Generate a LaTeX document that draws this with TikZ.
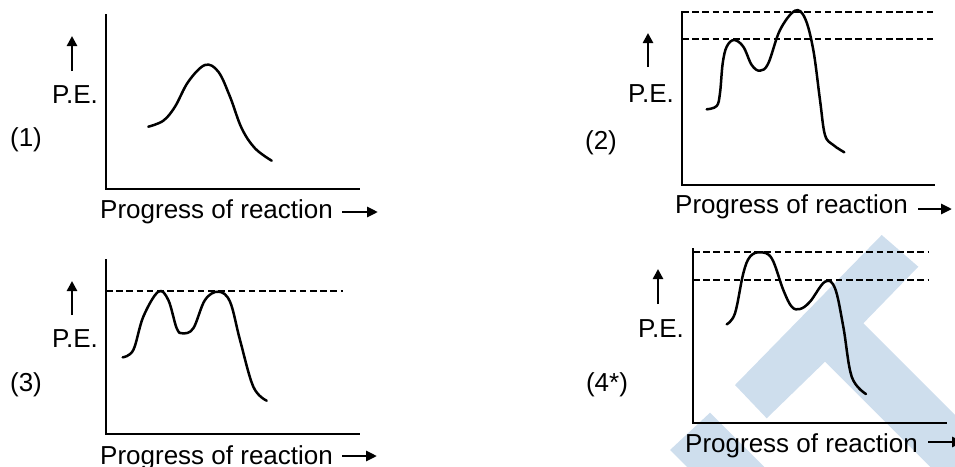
\documentclass[tikz,border=0pt]{standalone}
\usepackage{fontspec}
\setmainfont{Liberation Sans}
\usetikzlibrary{arrows.meta}
\definecolor{wm}{RGB}{206,222,237}
\begin{document}
\begin{tikzpicture}[x=1pt,y=-1pt,
  axis/.style={line width=2.6pt, line cap=rect},
  curve/.style={line width=2.5pt, line join=round, line cap=round},
  level/.style={line width=2.1pt, dash pattern=on 6.5pt off 3.7pt},
  uparrow/.style={line width=2.8pt, -{Triangle[length=10pt,width=10pt]}},
  rarrow/.style={line width=2.8pt, -{Triangle[length=11pt,width=10pt]}},
  lbl/.style={font=\fontsize{26}{31}\selectfont, inner sep=0pt},
]
\useasboundingbox (0,0) rectangle (955,466);
\clip (0,0) rectangle (955,466);
% watermark
\fill[wm] (735,385) -- (881.7,235) -- (918.3,266.7) -- (863.3,323.3) -- (1010,470) -- (933.3,470) -- (825,361.7) -- (766.7,418.3) -- cycle;
\fill[wm] (670,450) -- (710,412.7) -- (767.3,470) -- (690,470) -- cycle;

% ---------- panel 1 ----------
\coordinate (y1) at (106,15); \coordinate (o1) at (106,189); \coordinate (x1) at (359,189);
\draw[axis] (y1) -- (o1) -- (x1);
\draw[curve] plot[smooth, tension=0.6] coordinates {(148.3,126.7) (163.3,120.7) (175,106.7) (188.3,81.7) (205,65) (218.3,71.7) (230,96.7) (241.7,128.3) (255,148.3) (271.7,160.7)};
\coordinate (u1s) at (72,71); \coordinate (u1e) at (72,36);
\draw[uparrow] (u1s) -- (u1e);
\node[lbl] (pe1) at (75,95) {P.E.};
\node[lbl] (n1) at (26,140) {(1)};
\node[lbl, anchor=base west] (t1) at (100,218) {Progress of reaction};
\coordinate (r1s) at (342,212); \coordinate (r1e) at (378,212);
\draw[rarrow] (r1s) -- (r1e);

% ---------- panel 2 ----------
\coordinate (y2) at (682,12); \coordinate (o2) at (682,185); \coordinate (x2) at (934,185);
\draw[axis] (y2) -- (o2) -- (x2);
\coordinate (d2a) at (682,12); \coordinate (d2b) at (933,12);
\coordinate (d2c) at (682,39); \coordinate (d2d) at (933,39);
\draw[level] (d2a) -- (d2b);
\draw[level] (d2c) -- (d2d);
\draw[curve] plot[smooth, tension=0.6] coordinates {(706.7,109.3) (716.7,106) (720,93) (722.7,63.3) (726.7,46.7) (734,40) (743.3,46.7) (751.7,65) (760,70.7) (768.3,63.3) (780,30) (795,10.7) (805,18.3) (813.3,50) (820,100) (825,135) (833.3,145) (844.3,152.3)};
\coordinate (u2s) at (648,67); \coordinate (u2e) at (648,33);
\draw[uparrow] (u2s) -- (u2e);
\node[lbl] (pe2) at (651,94) {P.E.};
\node[lbl] (n2) at (601,143) {(2)};
\node[lbl, anchor=base west] (t2) at (675,213) {Progress of reaction};
\coordinate (r2s) at (918,209); \coordinate (r2e) at (952,209);
\draw[rarrow] (r2s) -- (r2e);

% ---------- panel 3 ----------
\coordinate (y3) at (106,260); \coordinate (o3) at (106,434); \coordinate (x3) at (359,434);
\draw[axis] (y3) -- (o3) -- (x3);
\coordinate (d3a) at (106,291); \coordinate (d3b) at (343,291);
\draw[level] (d3a) -- (d3b);
\draw[curve] plot[smooth, tension=0.6] coordinates {(122.7,357.3) (133.3,350) (143.3,316.7) (158.3,291.7) (168.3,300) (176.7,328.3) (182.7,333.3) (193.3,328.3) (205,300) (218.3,291.7) (230,301.7) (240,340) (253.3,386.7) (266.7,400.7)};
\coordinate (u3s) at (72,315); \coordinate (u3e) at (72,281);
\draw[uparrow] (u3s) -- (u3e);
\node[lbl] (pe3) at (75,339) {P.E.};
\node[lbl] (n3) at (26,385) {(3)};
\node[lbl, anchor=base west] (t3) at (100,464) {Progress of reaction};
\coordinate (r3s) at (342,456); \coordinate (r3e) at (377,456);
\draw[rarrow] (r3s) -- (r3e);

% ---------- panel 4 ----------
\coordinate (y4) at (693,249); \coordinate (o4) at (693,423); \coordinate (x4) at (946,423);
\draw[axis] (y4) -- (o4) -- (x4);
\coordinate (d4a) at (693,252); \coordinate (d4b) at (928,252);
\coordinate (d4c) at (693,280); \coordinate (d4d) at (928,280);
\draw[level] (d4a) -- (d4b);
\draw[level] (d4c) -- (d4d);
\draw[curve] plot[smooth, tension=0.6] coordinates {(726.7,324.3) (735,313.3) (743.3,273.3) (750,256.7) (760,252.3) (771.7,258.3) (783.3,290) (791.7,306.7) (800,309) (810,301.7) (825,281.7) (835,288.3) (843.3,326.7) (851.7,376.7) (866,394)};
\coordinate (u4s) at (658,304); \coordinate (u4e) at (658,269);
\draw[uparrow] (u4s) -- (u4e);
\node[lbl] (pe4) at (661,329) {P.E.};
\node[lbl] (n4) at (607,385) {(4*)};
\node[lbl, anchor=base west] (t4) at (685,452) {Progress of reaction};
\coordinate (r4s) at (928,442); \coordinate (r4e) at (963,442);
\draw[rarrow] (r4s) -- (r4e);
\end{tikzpicture}
\end{document}
